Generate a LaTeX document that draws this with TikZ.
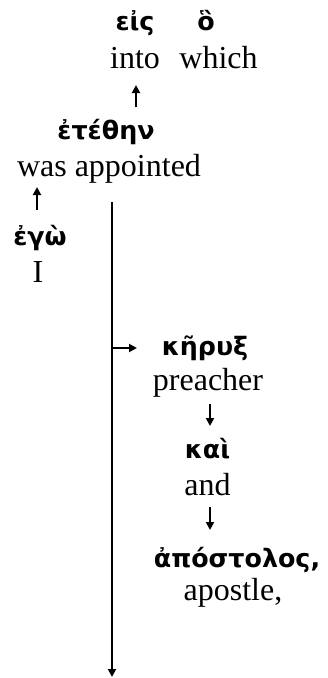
\documentclass[tikz,border=0pt]{standalone}
\usepackage{fontspec}
\setmainfont{Liberation Serif}
\newfontfamily\grk{DejaVu Sans}
\usetikzlibrary{arrows.meta}
\begin{document}
\begin{tikzpicture}[x=0.75pt,y=-0.75pt,
  eng/.style={font=\fontsize{24}{28}\selectfont, inner sep=0pt, anchor=base},
  gr/.style={font=\grk\bfseries\fontsize{19}{23}\selectfont, inner sep=0pt, anchor=base},
  arr/.style={line width=1.4pt, -{Triangle[length=6pt,width=6pt]}}]
\useasboundingbox (0,0) rectangle (328,678);
\node[gr] (eis) at (135,31) {εἰς};
\node[gr] (ho) at (206,31) {ὃ};
\node[eng] (into) at (135,68) {into};
\node[eng] (which) at (218.5,68) {which};
\node[gr] (etethen) at (106,139) {ἐτέθην};
\node[eng] (appointed) at (109,176) {was appointed};
\node[gr] (ego) at (40,245) {ἐγὼ};
\node[eng] (I) at (38,282) {I};
\node[gr] (keryx) at (205,355) {κῆρυξ};
\node[eng] (preacher) at (208,390) {preacher};
\node[gr] (kai) at (207.5,458) {καὶ};
\node[eng] (and) at (207.5,495) {and};
\node[gr] (apostolos) at (237,567) {ἀπόστολος,};
\node[eng] (apostle) at (233,600) {apostle,};
\coordinate (a1s) at (136,107); \coordinate (a1e) at (136,85);
\coordinate (a2s) at (37,210); \coordinate (a2e) at (37,187);
\coordinate (vs) at (112,202); \coordinate (ve) at (112,677);
\coordinate (hs) at (112,348); \coordinate (he) at (137,348);
\coordinate (a3s) at (210,404); \coordinate (a3e) at (210,426);
\coordinate (a4s) at (210,507); \coordinate (a4e) at (210,530);
\draw[arr] (a1s) -- (a1e);
\draw[arr] (a2s) -- (a2e);
\draw[arr] (vs) -- (ve);
\draw[arr] (hs) -- (he);
\draw[arr] (a3s) -- (a3e);
\draw[arr] (a4s) -- (a4e);
\end{tikzpicture}
\end{document}
